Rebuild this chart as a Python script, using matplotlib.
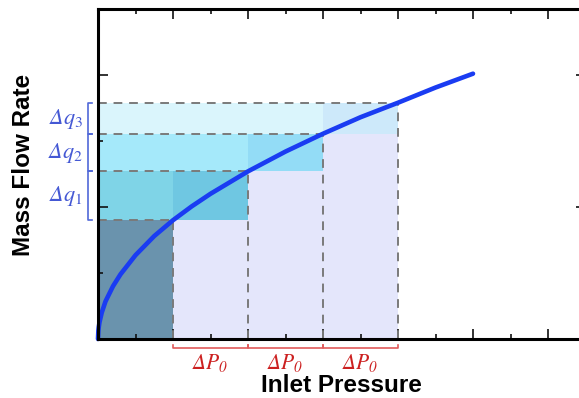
import matplotlib
matplotlib.use("Agg")
import matplotlib.pyplot as plt
from matplotlib.patches import Rectangle
from matplotlib.ticker import MultipleLocator
import matplotlib.transforms as mtransforms

# Times-like italics everywhere in math, with an upright face kept for subscripts
plt.rcParams["mathtext.fontset"] = "custom"
plt.rcParams["mathtext.rm"] = "STIXGeneral:italic"
plt.rcParams["mathtext.it"] = "STIXGeneral:italic"
plt.rcParams["mathtext.sf"] = "STIXGeneral"

# flow curve
pressure = [0, 0.005, 0.01, 0.02, 0.05, 0.1, 0.2, 0.3, 0.5, 0.75, 1.0, 1.25,
            1.5, 2.0, 2.5, 3.0, 3.5, 4.0, 4.5, 5.0]
flow = [0, 0.064, 0.09, 0.127, 0.20, 0.285, 0.40, 0.49, 0.635, 0.78, 0.90, 1.005,
        1.10, 1.27, 1.42, 1.555, 1.68, 1.79, 1.905, 2.01]

# equal pressure steps and the flow reached at each one
step_p = [1, 2, 3, 4]
step_q = [0.90, 1.27, 1.55, 1.79]
dq_labels = [r"$\Delta q_{\mathsf{1}}$", r"$\Delta q_{\mathsf{2}}$", r"$\Delta q_{\mathsf{3}}$"]
dp_label = r"$\Delta P_0$"

band_colors = ["#7fd4e7", "#a5e9fa", "#daf5fc"]
overlap_colors = ["#6fc7e2", "#93dcf6", "#cde9fa"]
column_color = "#e4e6fb"
base_color = "#6a93ad"
blue = "#1a3cf2"
red = "#e05a5a"

W, H = 579, 398
fig = plt.figure(figsize=(W / 100, H / 100), dpi=100)
ax = fig.add_axes([98 / W, (H - 339) / H, 487.5 / W, 330 / H])
ax.set_xlim(0, 6.5)
ax.set_ylim(0, 2.5)

# bottom-left block
ax.add_patch(Rectangle((0, 0), step_p[0], step_q[0], fc=base_color, ec="none", zorder=1))

# columns under the curve for each step
for i in range(1, len(step_p)):
    ax.add_patch(Rectangle((step_p[i - 1], 0), step_p[i] - step_p[i - 1], step_q[i - 1],
                           fc=column_color, ec="none", zorder=1))

# horizontal bands for each flow increment
for i in range(1, len(step_q)):
    lo, hi = step_q[i - 1], step_q[i]
    ax.add_patch(Rectangle((0, lo), step_p[i - 1], hi - lo,
                           fc=band_colors[i - 1], ec="none", zorder=1))
    ax.add_patch(Rectangle((step_p[i - 1], lo), step_p[i] - step_p[i - 1], hi - lo,
                           fc=overlap_colors[i - 1], ec="none", zorder=1))

# dashed guides
for p, q in zip(step_p, step_q):
    ax.plot([0, p], [q, q], ls=(0, (4.5, 3.5)), color="#7a7a7a", lw=1.4, zorder=2)
    ax.plot([p, p], [0, q], ls=(0, (4.5, 3.5)), color="#7a7a7a", lw=1.4, zorder=2)

ax.plot(pressure, flow, color=blue, lw=3.3, solid_capstyle="round", zorder=3,
        clip_on=False)

# flow brackets on the left
tr = mtransforms.blended_transform_factory(ax.transAxes, ax.transData)
bx, tick = -0.0205, 0.009
for i in range(1, len(step_q)):
    lo, hi = step_q[i - 1], step_q[i]
    ax.plot([bx + tick, bx, bx, bx + tick], [lo, lo, hi, hi], color="#5068d8",
            lw=1.2, transform=tr, clip_on=False)
    ax.text(-0.066, (lo + hi) / 2, dq_labels[i - 1], transform=tr, color="#4458d4",
            fontsize=16, ha="center", va="center")

# pressure brackets below the axis
for i in range(1, len(step_p)):
    a, b = step_p[i - 1], step_p[i]
    ax.plot([a, a, b, b], [-0.045, -0.068, -0.068, -0.045], color=red, lw=1.2,
            clip_on=False)
    ax.text((a + b) / 2, -0.18, dp_label, color="#cc2020", fontsize=15.5,
            ha="center", va="center")

ax.xaxis.set_major_locator(MultipleLocator(1))
ax.xaxis.set_minor_locator(MultipleLocator(0.5))
ax.yaxis.set_major_locator(MultipleLocator(1))
ax.yaxis.set_minor_locator(MultipleLocator(0.5))
ax.tick_params(which="both", direction="in", top=True, right=True,
               labelbottom=False, labelleft=False, width=1.2, color="#111111")
ax.tick_params(which="major", length=7)
ax.tick_params(which="minor", length=3.5)
for s in ax.spines.values():
    s.set_linewidth(2.2)
    s.set_zorder(4)

fig.text(341 / W, 1 - 385 / H, "Inlet Pressure", fontsize=17.5, fontweight="bold",
         family="Liberation Sans", ha="center", va="center")
fig.text(24 / W, 1 - 164.5 / H, "Mass Flow Rate", fontsize=17.5, fontweight="bold",
         family="Liberation Sans", ha="center", va="center", rotation=90)

fig.savefig("out.png", dpi=100)
